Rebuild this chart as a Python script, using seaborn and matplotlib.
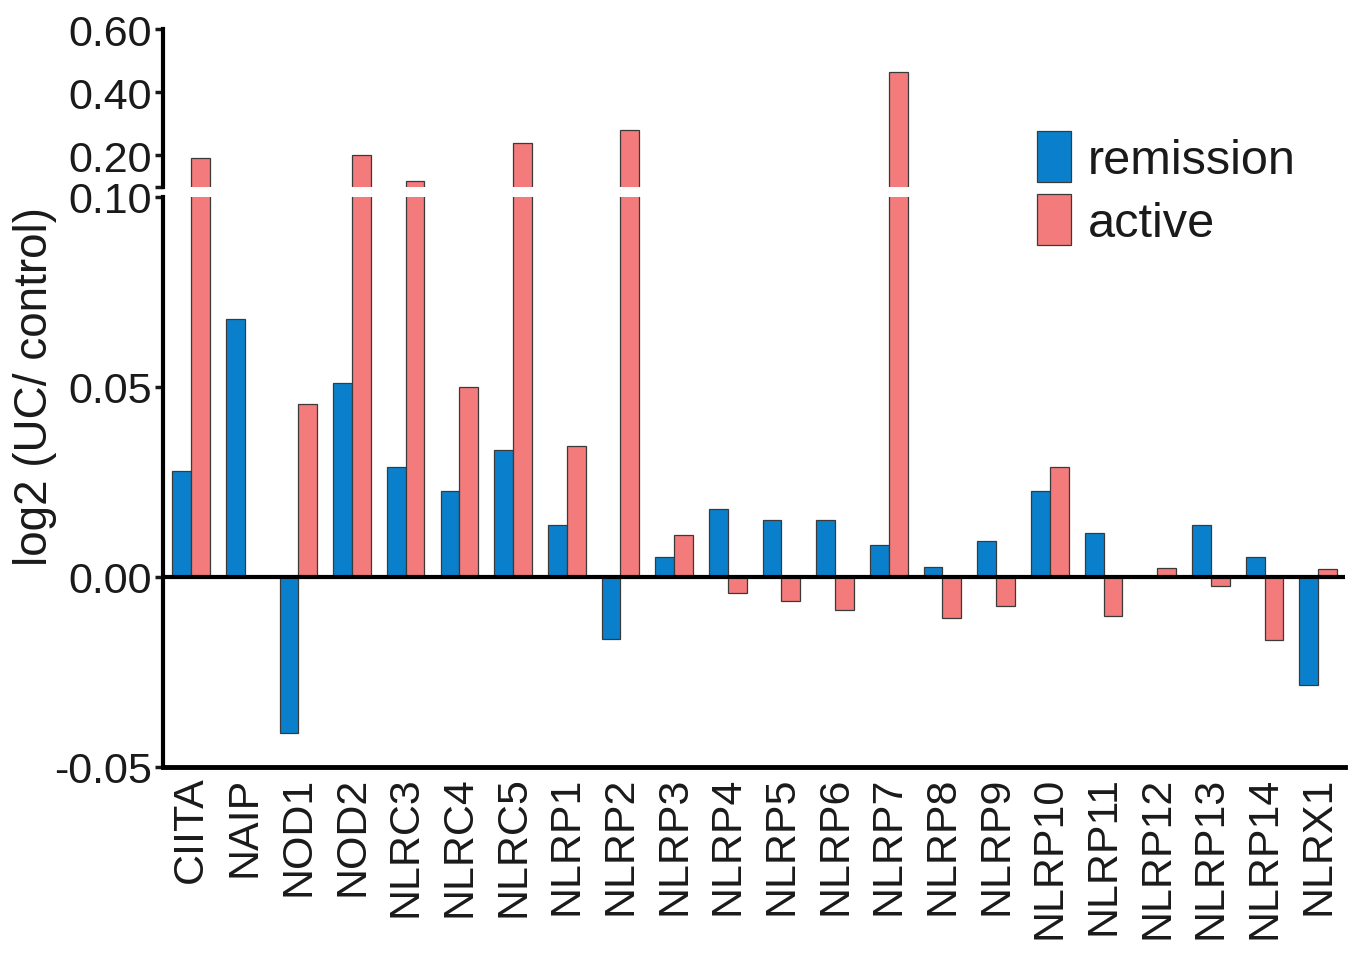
import numpy as np
import pandas as pd
import seaborn as sns
import matplotlib.pyplot as plt

genes = ["CIITA", "NAIP", "NOD1", "NOD2", "NLRC3", "NLRC4", "NLRC5", "NLRP1",
         "NLRP2", "NLRP3", "NLRP4", "NLRP5", "NLRP6", "NLRP7", "NLRP8", "NLRP9",
         "NLRP10", "NLRP11", "NLRP12", "NLRP13", "NLRP14", "NLRX1"]
remission = [0.028, 0.068, -0.041, 0.051, 0.029, 0.0226, 0.0334, 0.0137,
             -0.0163, 0.0053, 0.0179, 0.015, 0.015, 0.0084, 0.0026, 0.0095,
             0.0226, 0.0116, 0.0003, 0.0137, 0.0053, -0.0284]
active = [0.192, 0.0, 0.0455, 0.201, 0.12, 0.05, 0.239, 0.0345,
          0.281, 0.011, -0.0042, -0.0064, -0.0086, 0.465, -0.0109, -0.0077,
          0.029, -0.0103, 0.0024, -0.0023, -0.0165, 0.0022]

df = pd.DataFrame({
    "gene": genes * 2,
    "value": remission + active,
    "group": ["remission"] * len(genes) + ["active"] * len(genes),
})

colors = {"remission": "#0a80cc", "active": "#f37b7b"}

sns.set_theme(style="white")
plt.rcParams["font.family"] = ["Liberation Sans", "DejaVu Sans"]
plt.rcParams["text.color"] = "#1a1a1a"

fig = plt.figure(figsize=(13.52, 9.54), dpi=100)
left, width = 0.1206, 0.8743
ax_lo = fig.add_axes([left, 0.195, width, 0.5975])
ax_hi = fig.add_axes([left, 0.8029, width, 0.1656])

for ax in (ax_lo, ax_hi):
    sns.barplot(data=df, x="gene", y="value", hue="group", palette=colors,
                width=0.7, saturation=1, edgecolor="#3a3a3a", linewidth=0.9,
                ax=ax, legend=(ax is ax_lo))
    ax.set_xlim(-0.52, 21.5)
    ax.set_xlabel("")
    ax.set_ylabel("")
    for s in ["top", "right"]:
        ax.spines[s].set_visible(False)
    ax.spines["left"].set_linewidth(3)
    ax.spines["left"].set_color("black")
    ax.tick_params(axis="y", direction="out", length=6, width=2.5,
                   labelsize=31, pad=2, left=True, colors="#1a1a1a")

# lower part
ax_lo.set_ylim(-0.05, 0.10)
ax_lo.set_yticks([-0.05, 0.0, 0.05, 0.10])
ax_lo.set_yticklabels(["-0.05", "0.00", "0.05", "0.10"])
ax_lo.spines["bottom"].set_linewidth(3.5)
ax_lo.spines["bottom"].set_color("black")
ax_lo.axhline(0, color="black", lw=3, zorder=5)
ax_lo.tick_params(axis="x", length=0, labelsize=31, rotation=90, pad=6,
                  colors="#1a1a1a")

# upper part
ax_hi.set_ylim(0.10, 0.60)
ax_hi.set_yticks([0.10, 0.20, 0.40, 0.60])
ax_hi.set_yticklabels(["", "0.20", "0.40", "0.60"])
ax_hi.spines["bottom"].set_visible(False)
ax_hi.set_xticks([])

# legend
handles, labels = ax_lo.get_legend_handles_labels()
ax_lo.get_legend().remove()
fig.legend(handles, labels, loc="upper left", bbox_to_anchor=(0.749, 0.887),
           frameon=False, fontsize=35, handlelength=0.7, handleheight=1.24,
           handletextpad=0.35, labelspacing=0.22, borderpad=0)

fig.text(0.026, 0.595, "log2 (UC/ control)", rotation=90, ha="center",
         va="center", fontsize=33)

fig.savefig("out.png", dpi=100)
